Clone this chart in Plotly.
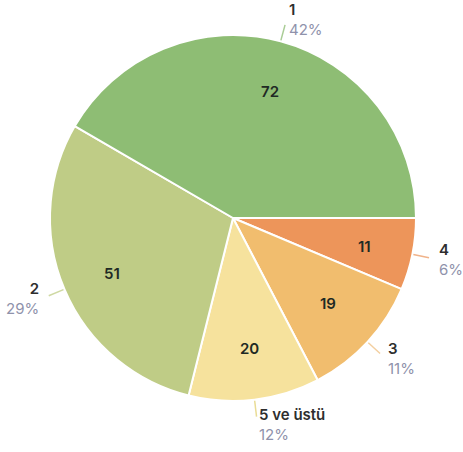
import math
import plotly.graph_objects as go

# Responses by count
labels = ["1", "2", "5 ve üstü", "3", "4"]
values = [72, 51, 20, 19, 11]
colors = ["#8ebd74", "#bfcc86", "#f6e29d", "#f1bd6e", "#ed955a"]
line_colors = ["#a9cc95", "#cfd9a3", "#e9dc95", "#f3cfa0", "#f0b38a"]

W, H = 463, 452
CX, CY, R = 233, 218, 183  # pie centre and radius in pixels
LABEL_HALF_H = 20           # half height of a two-line outside label

total = sum(values)
pcts = [round(v * 100 / total) for v in values]

# slices run counterclockwise from 3 o'clock; plotly is fed the reversed
# order drawn clockwise from the same start, which gives the same layout
fig = go.Figure(go.Pie(
    labels=labels[::-1],
    values=values[::-1],
    sort=False,
    direction="clockwise",
    rotation=90,
    marker=dict(colors=colors[::-1], line=dict(color="white", width=2)),
    textinfo="none",
    hoverinfo="label+value+percent",
    domain=dict(x=[(CX - R) / W, (CX + R) / W], y=[1 - (CY + R) / H, 1 - (CY - R) / H]),
    showlegend=False,
))


def px(x):
    return x / W


def py(y):
    return 1 - y / H


annotations = []
shapes = []
start = 0.0
for lab, val, pct, lc in zip(labels, values, pcts, line_colors):
    span = val / total * 360
    mid = math.radians(start + span / 2)
    start += span
    c, s = math.cos(mid), math.sin(mid)

    # value inside the slice
    annotations.append(dict(
        x=px(CX + 0.78 * R * c), y=py(CY - 0.78 * R * s),
        xref="paper", yref="paper", text=str(val), showarrow=False,
        font=dict(family="Inter", size=15, color="#1f2a24", weight=600),
    ))

    # leader line
    shapes.append(dict(
        type="line", xref="paper", yref="paper",
        x0=px(CX + (R + 1) * c), y0=py(CY - (R + 1) * s),
        x1=px(CX + (R + 17) * c), y1=py(CY - (R + 17) * s),
        line=dict(color=lc, width=1.5),
    ))

    # outside label: category and share, kept inside the page
    right = c >= 0
    ly = CY - (R + 25) * s
    ly = min(max(ly, LABEL_HALF_H), H - LABEL_HALF_H)
    annotations.append(dict(
        x=px(CX + (R + 25) * c), y=py(ly),
        xref="paper", yref="paper",
        text=f"{lab}<br><span style='color:#8f92ab;font-weight:400'>{pct}%</span>",
        showarrow=False, align="left" if right else "right",
        xanchor="left" if right else "right", yanchor="middle",
        font=dict(family="Inter", size=15, color="#2e2e2e", weight=600),
    ))

fig.update_layout(
    width=W, height=H,
    margin=dict(l=0, r=0, t=0, b=0),
    paper_bgcolor="white",
    plot_bgcolor="white",
    annotations=annotations,
    shapes=shapes,
)

fig.write_html("out.html")
